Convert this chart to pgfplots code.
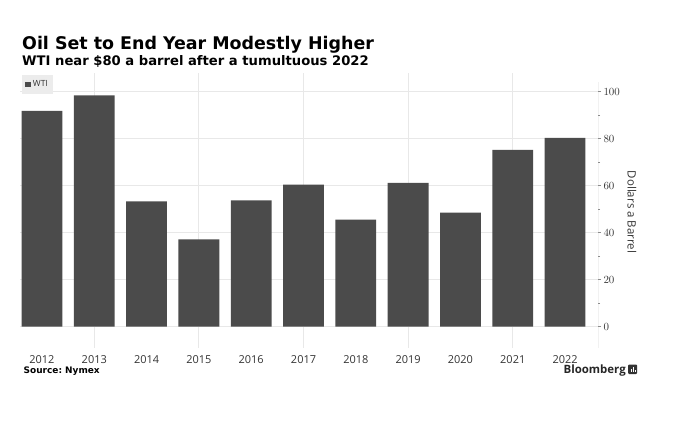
\documentclass[border=0pt]{standalone}
\usepackage{pgfplots}
\pgfplotsset{compat=1.18}
\usepackage{fontspec}
\setmainfont{Open Sans}
\newfontfamily\dvb{DejaVu Sans Bold}
\definecolor{barcol}{HTML}{4B4B4B}
\definecolor{gridcol}{HTML}{E8E8E8}
\definecolor{legbg}{HTML}{ECECEC}
\definecolor{txtcol}{HTML}{333333}
\definecolor{axcol}{HTML}{8C8C8C}
\begin{document}
\begin{tikzpicture}[x=1bp,y=1bp]
\path (0,0) rectangle (675,426);
\begin{axis}[
  at={(20bp,78.3bp)}, anchor=south west,
  scale only axis, width=578bp, height=274.95bp,
  xmin=-0.42, xmax=10.63, ymin=-9, ymax=108,
  axis x line*=bottom, axis y line*=right,
  x axis line style={draw=none}, y axis line style={draw=none},
  xtick={0,...,10},
  xticklabels={2012,2013,2014,2015,2016,2017,2018,2019,2020,2021,2022},
  major x tick style={draw=none},
  extra x ticks={1,3,5,7,9}, extra x tick labels={},
  extra x tick style={grid=major, major tick length=0pt},
  ytick={0,20,...,100}, minor ytick={10,30,...,90},
  ymajorgrids,
  grid style={gridcol, line width=0.8bp},
  tick align=outside,
  major tick length=3bp, minor tick length=2bp,
  y tick style={axcol, line width=0.7bp},
  tick label style={font=\fontsize{11}{12}\selectfont, text=txtcol},
  yticklabel style={xshift=-1bp},
  xticklabel style={yshift=-1bp},
  legend style={at={(0.003,0.993)}, anchor=north west, fill=legbg, draw=none,
    font=\fontsize{8.5}{9}\selectfont, text=txtcol, inner xsep=3.5bp, inner ysep=4bp},
  legend image code/.code={\fill[barcol] (0bp,-2.5bp) rectangle (5.5bp,3bp);},
]
\addplot[ybar, fill=barcol, draw=none, bar width=0.78] coordinates {
(0,91.8) (1,98.4) (2,53.3) (3,37.1) (4,53.7) (5,60.4) (6,45.5) (7,61.1) (8,48.5) (9,75.2) (10,80.3)
};
\addlegendentry{WTI}
\draw[axcol, line width=0.9bp] (axis cs:10.63,104) -- (axis cs:10.63,-9);
\end{axis}
\node[anchor=base west, inner sep=0pt, font=\dvb\fontsize{17.5}{19}\selectfont] at (22,376.5) {Oil Set to End Year Modestly Higher};
\node[anchor=base west, inner sep=0pt, font=\dvb\fontsize{13.2}{15}\selectfont] at (22,360.5) {WTI near \$80 a barrel after a tumultuous 2022};
\node[anchor=base west, inner sep=0pt, font=\dvb\fontsize{9}{10}\selectfont] at (23.5,53) {Source:\ Nymex};
\node[anchor=base east, inner sep=0pt, font=\bfseries\fontsize{11.5}{13}\selectfont, text=black!85] at (626,53) {Bloomberg};
\fill[black!80, rounded corners=1bp] (628,52) rectangle (637,61.5);
\fill[white] (630.5,54) rectangle (631.5,57.5);
\fill[white] (632.5,54) rectangle (633.5,59);
\fill[white] (634.5,54) rectangle (635.3,56.5);
\node[rotate=-90, inner sep=0pt, font=\fontsize{11.5}{13}\selectfont, text=txtcol] at (632,214) {Dollars a Barrel};
\end{tikzpicture}
\end{document}
